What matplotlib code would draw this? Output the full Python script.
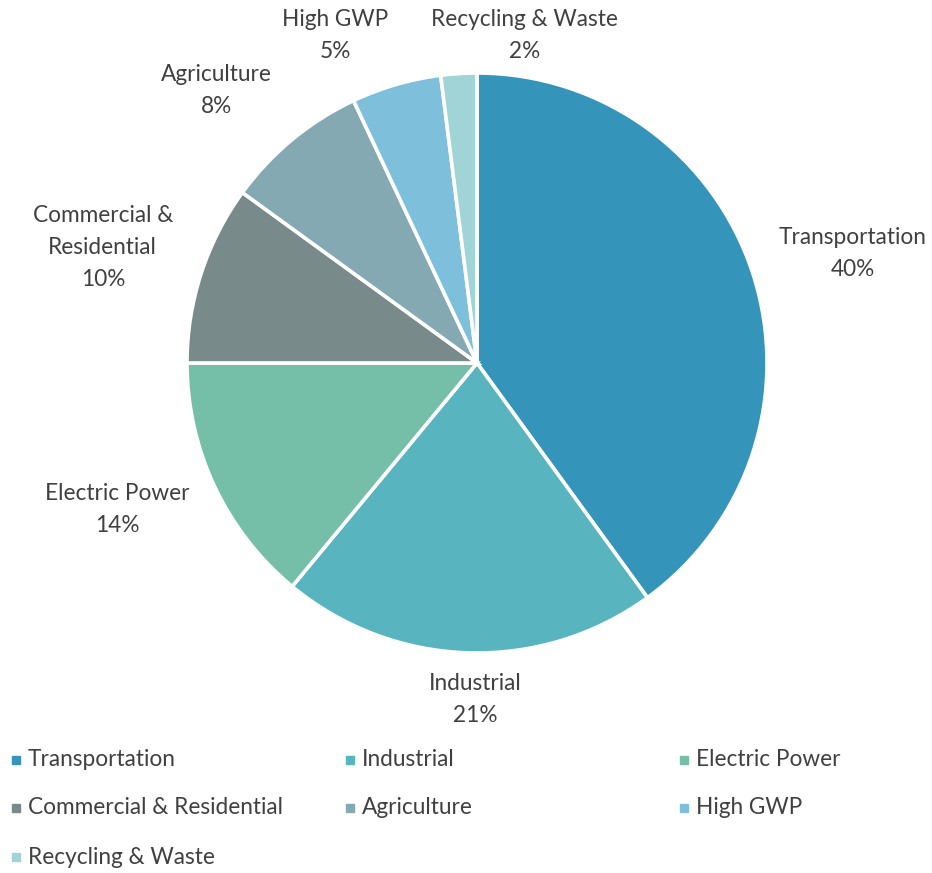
import matplotlib
matplotlib.use("Agg")
import matplotlib.pyplot as plt
import numpy as np

plt.rcParams['font.family'] = ['Lato', 'DejaVu Sans']

categories = ["Transportation", "Industrial", "Electric Power",
              "Commercial & Residential", "Agriculture", "High GWP",
              "Recycling & Waste"]
label_text = ["Transportation", "Industrial", "Electric Power",
              "Commercial &\nResidential", "Agriculture", "High GWP",
              "Recycling & Waste"]
shares = [40, 21, 14, 10, 8, 5, 2]
colors = ["#3594BA", "#58B5C0", "#75BEA7", "#798A8A", "#84A9B3",
          "#7EC0DB", "#A0D4D7"]

# radial distance and angular nudge (degrees) for each outside label
label_dist = [1.35, 1.16, 1.34, 1.35, 1.30, 1.23, 1.14]
label_nudge = [-1.7, 1.5, -3.0, 0.9, 4.1, 7.2, -11.9]

W, H = 932, 873
fig = plt.figure(figsize=(W / 100, H / 100), dpi=100)
cx, cy, R = 477, 363, 290
ax = fig.add_axes([(cx - R) / W, 1 - (cy + R) / H, 2 * R / W, 2 * R / H])

wedges, _ = ax.pie(shares, colors=colors, startangle=90, counterclock=False,
                   wedgeprops=dict(edgecolor="white", linewidth=2.6))
ax.set_xlim(-1, 1)
ax.set_ylim(-1, 1)
ax.set_aspect("equal")

text_color = "#404040"
fs = 16.3
for w, txt, val, d, nud in zip(wedges, label_text, shares, label_dist, label_nudge):
    mid = np.deg2rad((w.theta1 + w.theta2) / 2 + nud)
    ax.text(d * np.cos(mid), d * np.sin(mid), f"{txt}\n{val}%",
            ha="center", va="center", fontsize=fs, color=text_color,
            linespacing=1.65, clip_on=False)

# legend laid out in three columns, row by row
col_x = [12, 346, 680]
row_y = [760, 808, 857]
for i, (name, c) in enumerate(zip(categories, colors)):
    r, k = divmod(i, 3)
    x, y = col_x[k], row_y[r]
    fig.patches.append(plt.Rectangle((x / W, 1 - (y + 4) / H), 8 / W, 8 / H,
                                     transform=fig.transFigure, color=c))
    fig.text((x + 16) / W, 1 - y / H, name, ha="left", va="center",
             fontsize=fs, color=text_color)

fig.savefig("out.png", dpi=100, facecolor="white")
